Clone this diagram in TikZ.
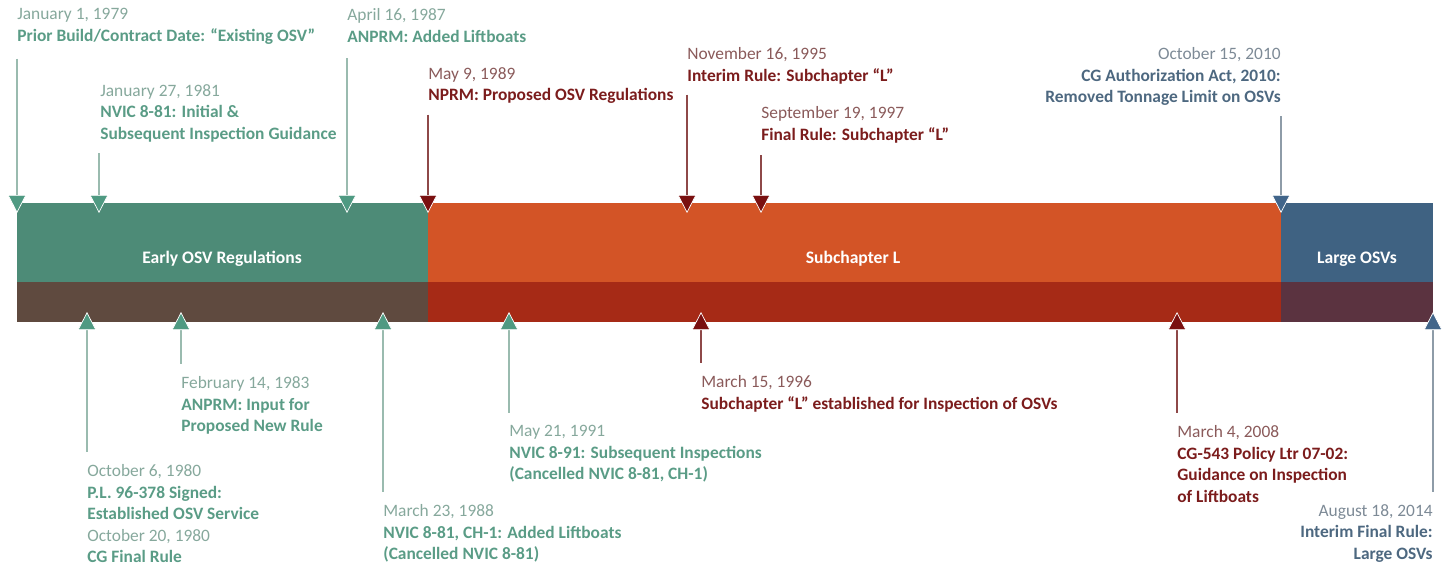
\documentclass[tikz,border=0pt]{standalone}
\usepackage{fontspec}
\setmainfont{Carlito}
\usetikzlibrary{arrows.meta}

\definecolor{earlytop}{HTML}{4D8B77}
\definecolor{earlybot}{HTML}{5F4A3F}
\definecolor{subltop}{HTML}{D35426}
\definecolor{sublbot}{HTML}{A62A16}
\definecolor{largetop}{HTML}{3F6282}
\definecolor{largebot}{HTML}{5B3340}
\definecolor{grntri}{HTML}{4F9A82}
\definecolor{redtri}{HTML}{7A1010}
\definecolor{blutri}{HTML}{41658A}
\definecolor{grntxt}{HTML}{5A9C86}
\definecolor{grndate}{HTML}{86A89C}
\definecolor{redtxt}{HTML}{7B1C1C}
\definecolor{reddate}{HTML}{8A5A5A}
\definecolor{blutxt}{HTML}{4D6880}
\definecolor{bludate}{HTML}{7D8A96}
\definecolor{grnline}{HTML}{9ABBAF}
\definecolor{redline}{HTML}{8E4848}
\definecolor{bluline}{HTML}{8E9CA8}

\tikzset{
  event/.style={inner sep=0pt, font=\fontsize{9.9}{12.3}\selectfont},
  grnevent/.style={event, text=grntxt},
  redevent/.style={event, text=redtxt},
  bluevent/.style={event, text=blutxt},
  era/.style={text=white, font=\fontsize{10}{11}\selectfont\bfseries},
  marker/.style={line width=0.8pt,
    -{Triangle[width=0.37cm,length=0.36cm,fill=#1,color=white,line width=0.4pt]}},
  grnmark/.style={marker=grntri, draw=grnline},
  redmark/.style={marker=redtri, draw=redline},
  blumark/.style={marker=blutri, draw=bluline}
}

\begin{document}
\begin{tikzpicture}[x=0.02cm,y=-0.02cm]
  \useasboundingbox (0,0) rectangle (1449,578);

  % the three eras
  \fill[earlytop] (17,203) rectangle (428,282);
  \fill[earlybot] (17,282) rectangle (428,322);
  \fill[subltop] (428,203) rectangle (1281,282);
  \fill[sublbot] (428,282) rectangle (1281,322);
  \fill[largetop] (1281,203) rectangle (1433,282);
  \fill[largebot] (1281,282) rectangle (1433,322);

  \node[era] (early) at (222,259) {Early OSV Regulations};
  \node[era] (subl) at (853,259) {Subchapter L};
  \node[era] (large) at (1357,259) {Large OSVs};

  % events above the bar
  \coordinate (jan79m) at (17,213);
  \coordinate (jan81m) at (99,213);
  \coordinate (apr87m) at (347,213);
  \coordinate (may89m) at (428,213);
  \coordinate (nov95m) at (687,213);
  \coordinate (sep97m) at (761,213);
  \coordinate (oct10m) at (1281,213);

  \node[grnevent, anchor=north west, align=left] (jan79) at (17,8)
    {\textcolor{grndate}{January 1, 1979}\\\textbf{Prior Build/Contract Date: “Existing OSV”}};
  \node[grnevent, anchor=north west, align=left] (jan81) at (100,84)
    {\textcolor{grndate}{January 27, 1981}\\\textbf{NVIC 8-81: Initial \&}\\\textbf{Subsequent Inspection Guidance}};
  \node[grnevent, anchor=north west, align=left] (apr87) at (347,8)
    {\textcolor{grndate}{April 16, 1987}\\\textbf{ANPRM: Added Liftboats}};
  \node[redevent, anchor=north west, align=left] (may89) at (428,67)
    {\textcolor{reddate}{May 9, 1989}\\\textbf{NPRM: Proposed OSV Regulations}};
  \node[redevent, anchor=north west, align=left] (nov95) at (687,47)
    {\textcolor{reddate}{November 16, 1995}\\\textbf{Interim Rule: Subchapter “L”}};
  \node[redevent, anchor=north west, align=left] (sep97) at (761,106)
    {\textcolor{reddate}{September 19, 1997}\\\textbf{Final Rule: Subchapter “L”}};
  \node[bluevent, anchor=north east, align=right] (oct10) at (1281,47)
    {\textcolor{bludate}{October 15, 2010}\\\textbf{CG Authorization Act, 2010:}\\\textbf{Removed Tonnage Limit on OSVs}};

  \draw[grnmark] ([yshift=-8pt]jan79.south west) -- (jan79m);
  \draw[grnmark] ([yshift=-6pt]jan81.south west -| jan81m) -- (jan81m);
  \draw[grnmark] ([yshift=-9pt]apr87.south west) -- (apr87m);
  \draw[redmark] ([yshift=-6pt]may89.south west) -- (may89m);
  \draw[redmark] ([yshift=-6pt]nov95.south west) -- (nov95m);
  \draw[redmark] ([yshift=-7pt]sep97.south west) -- (sep97m);
  \draw[blumark] ([yshift=-6pt]oct10.south east) -- (oct10m);

  % events below the bar
  \coordinate (oct80m) at (87,312);
  \coordinate (feb83m) at (181,312);
  \coordinate (mar88m) at (383,312);
  \coordinate (may91m) at (509,312);
  \coordinate (mar96m) at (701,312);
  \coordinate (mar08m) at (1177,312);
  \coordinate (aug14m) at (1433,312);

  \node[grnevent, anchor=north west, align=left] (oct80) at (87,464)
    {\textcolor{grndate}{October 6, 1980}\\\textbf{P.L. 96-378 Signed:}\\\textbf{Established OSV Service}\\
     \textcolor{grndate}{October 20, 1980}\\\textbf{CG Final Rule}};
  \node[grnevent, anchor=north west, align=left] (feb83) at (181,376)
    {\textcolor{grndate}{February 14, 1983}\\\textbf{ANPRM: Input for}\\\textbf{Proposed New Rule}};
  \node[grnevent, anchor=north west, align=left] (mar88) at (383,504)
    {\textcolor{grndate}{March 23, 1988}\\\textbf{NVIC 8-81, CH-1: Added Liftboats}\\\textbf{(Cancelled NVIC 8-81)}};
  \node[grnevent, anchor=north west, align=left] (may91) at (509,425)
    {\textcolor{grndate}{May 21, 1991}\\\textbf{NVIC 8-91: Subsequent Inspections}\\\textbf{(Cancelled NVIC 8-81, CH-1)}};
  \node[redevent, anchor=north west, align=left] (mar96) at (701,375)
    {\textcolor{reddate}{March 15, 1996}\\\textbf{Subchapter “L” established for Inspection of OSVs}};
  \node[redevent, anchor=north west, align=left] (mar08) at (1177,425)
    {\textcolor{reddate}{March 4, 2008}\\\textbf{CG-543 Policy Ltr 07-02:}\\\textbf{Guidance on Inspection}\\\textbf{of Liftboats}};
  \node[bluevent, anchor=north east, align=right] (aug14) at (1433,504)
    {\textcolor{bludate}{August 18, 2014}\\\textbf{Interim Final Rule:}\\\textbf{Large OSVs}};

  \draw[grnmark] ([yshift=7pt]oct80.north west) -- (oct80m);
  \draw[grnmark] ([yshift=7pt]feb83.north west) -- (feb83m);
  \draw[grnmark] ([yshift=7pt]mar88.north west) -- (mar88m);
  \draw[grnmark] ([yshift=7pt]may91.north west) -- (may91m);
  \draw[redmark] ([yshift=7pt]mar96.north west) -- (mar96m);
  \draw[redmark] ([yshift=7pt]mar08.north west) -- (mar08m);
  \draw[blumark] ([yshift=7pt]aug14.north east) -- (aug14m);
\end{tikzpicture}
\end{document}
